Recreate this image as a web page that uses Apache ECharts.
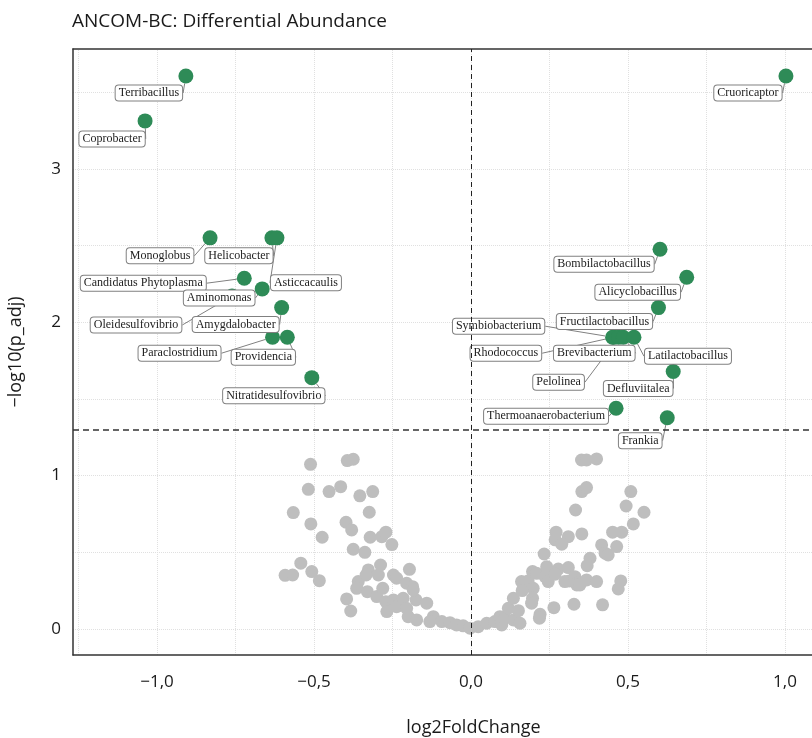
<!DOCTYPE html>
<html>
<head>
<meta charset="utf-8">
<title>ANCOM-BC: Differential Abundance</title>
<script src="https://cdn.jsdelivr.net/npm/echarts@6.0.0/dist/echarts.min.js"></script>
<style>
  html, body { margin: 0; padding: 0; background: #fff; }
  #chart { width: 812px; height: 738px; }
</style>
</head>
<body>
<div id="chart"></div>
<script>
// Significant taxa (labelled, green)
const sigNames = [
  'Terribacillus', 'Coprobacter', 'Cruoricaptor', 'Monoglobus', 'Helicobacter',
  'Asticcacaulis', 'Candidatus Phytoplasma', 'Aminomonas', 'Oleidesulfovibrio',
  'Amygdalobacter', 'Paraclostridium', 'Providencia', 'Nitratidesulfovibrio',
  'Bombilactobacillus', 'Alicyclobacillus', 'Fructilactobacillus', 'Symbiobacterium',
  'Rhodococcus', 'Pelolinea', 'Brevibacterium', 'Latilactobacillus', 'Defluviitalea',
  'Thermoanaerobacterium', 'Frankia'
];
const sigFC = [
  -0.908, -1.038, 1.003, -0.831, -0.634,
  -0.618, -0.722, -0.665, -0.761,
  -0.603, -0.632, -0.585, -0.507,
  0.602, 0.687, 0.597, 0.451,
  0.455, 0.470, 0.485, 0.519, 0.644,
  0.462, 0.625
];
const sigP = [
  3.607, 3.314, 3.607, 2.551, 2.551,
  2.551, 2.288, 2.218, 2.172,
  2.096, 1.903, 1.903, 1.639,
  2.477, 2.294, 2.096, 1.903,
  1.903, 1.903, 1.903, 1.903, 1.679,
  1.440, 1.378
];
// repelled label offsets (px) from each point
const labelOffsets = [
  [-37, 17], [-33, 18], [-38, 17], [-50, 18], [-33, 18],
  [29, 45], [-101, 5], [-43, 9], [-96, 29],
  [-46, 17], [-93, 16], [-24, 20], [-38, 18],
  [-56, 15], [-49, 15], [-54, 14], [-114, -11],
  [-108, 16], [-60, 45], [-29, 16], [54, 19], [-35, 17],
  [-70, 8], [-27, 23]
];

// Non-significant taxa (grey)
const nsFC = [
  -0.511, -0.394, -0.375, -0.518, -0.452, -0.415, -0.354, -0.313, -0.566, -0.510,
  -0.398, -0.380, -0.324, -0.474, -0.321, -0.284, -0.271, -0.252, -0.375, -0.338,
  -0.542, -0.592, -0.568, -0.507, -0.483, -0.396, -0.383, -0.359, -0.364, -0.330,
  -0.327, -0.334, -0.295, -0.288, -0.300, -0.281, -0.271, -0.268, -0.247, -0.237,
  -0.196, -0.205, -0.186, -0.247, -0.237, -0.216, -0.205, -0.175, -0.141, -0.200,
  -0.173, -0.120, -0.093, -0.067, -0.046, -0.131, -0.184, -0.025, -0.003, 0.023,
  0.050, 0.076, 0.092, 0.098, 0.108, 0.119, 0.135, 0.151, 0.156, 0.135,
  0.161, 0.182, 0.198, 0.163, 0.196, 0.193, 0.220, 0.218, 0.264, 0.328,
  0.419, 0.196, 0.209, 0.241, 0.278, 0.310, 0.236, 0.246, 0.268, 0.299,
  0.313, 0.331, 0.342, 0.337, 0.347, 0.368, 0.400, 0.477, 0.469, 0.233,
  0.379, 0.370, 0.416, 0.427, 0.437, 0.464, 0.451, 0.480, 0.271, 0.310,
  0.353, 0.268, 0.289, 0.333, 0.517, 0.551, 0.494, 0.509, 0.353, 0.368,
  0.352, 0.368, 0.400
];
const nsP = [
  1.074, 1.098, 1.107, 0.911, 0.896, 0.928, 0.868, 0.896, 0.759, 0.685,
  0.696, 0.646, 0.761, 0.598, 0.598, 0.602, 0.631, 0.550, 0.520, 0.500,
  0.429, 0.350, 0.352, 0.374, 0.315, 0.196, 0.117, 0.309, 0.265, 0.243,
  0.385, 0.352, 0.352, 0.417, 0.211, 0.265, 0.178, 0.113, 0.352, 0.331,
  0.389, 0.298, 0.276, 0.189, 0.145, 0.200, 0.135, 0.189, 0.168, 0.080,
  0.059, 0.080, 0.048, 0.041, 0.026, 0.048, 0.254, 0.020, 0.005, 0.015,
  0.037, 0.048, 0.080, 0.026, 0.070, 0.135, 0.059, 0.119, 0.037, 0.200,
  0.309, 0.313, 0.265, 0.250, 0.200, 0.168, 0.096, 0.070, 0.139, 0.161,
  0.157, 0.374, 0.363, 0.406, 0.391, 0.400, 0.341, 0.309, 0.357, 0.309,
  0.313, 0.341, 0.305, 0.287, 0.287, 0.320, 0.309, 0.313, 0.261, 0.489,
  0.461, 0.413, 0.548, 0.494, 0.483, 0.537, 0.631, 0.631, 0.631, 0.602,
  0.620, 0.581, 0.553, 0.776, 0.685, 0.761, 0.802, 0.896, 0.896, 0.922,
  1.102, 1.102, 1.109
];

// axes
const xTickValues = [-1, -0.5, 0, 0.5, 1];
const yTickValues = [0, 1, 2, 3];
const xGridValues = [-1.25, -1, -0.75, -0.5, -0.25, 0, 0.25, 0.5, 0.75, 1];
const yGridValues = [0, 0.5, 1, 1.5, 2, 2.5, 3, 3.5];
const pThreshold = 1.301; // -log10(0.05)
const fcCenter = 0;

const SANS = '"Open Sans", "Noto Sans", sans-serif';
const SERIF = '"Liberation Serif", "DejaVu Serif", serif';
const X_MIN = -1.2675;
const X_MAX = 1.086;

const fmtTick = (v, digits) => {
  const s = Math.abs(v).toFixed(digits).replace('.', ',');
  return v < 0 ? '\u2212' + s : s;
};

const chart = echarts.init(document.getElementById('chart'));

const nsData = nsFC.map((fc, i) => [fc, nsP[i]]);
const sigData = sigFC.map((fc, i) => [fc, sigP[i]]);

chart.setOption({
  animation: false,
  title: {
    text: 'ANCOM-BC: Differential Abundance',
    left: 72,
    top: 12,
    padding: 0,
    textStyle: { fontFamily: SANS, fontSize: 19, fontWeight: 'normal', color: '#1a1a1a' },
  },
  grid: {
    left: 73,
    right: 0,
    top: 49,
    bottom: 83,
    outerBoundsMode: 'none',
  },
  xAxis: [
    {
      type: 'value',
      min: X_MIN,
      max: X_MAX,
      name: 'log2FoldChange',
      nameLocation: 'middle',
      nameGap: 64,
      // the original panel is wider than the picture; keep the title centred on it
      nameTextStyle: { fontFamily: SANS, fontSize: 18, color: '#1a1a1a', padding: [0, 0, 0, 62] },
      axisLine: { show: true, onZero: false, lineStyle: { color: '#333', width: 1.5 } },
      axisTick: { show: false },
      splitLine: { show: false },
      axisLabel: {
        customValues: xTickValues,
        formatter: (v) => fmtTick(v, 1),
        margin: 19,
        fontFamily: SANS,
        fontSize: 17,
        color: '#1a1a1a',
      },
    },
    {
      // top frame line
      type: 'value',
      position: 'top',
      min: X_MIN,
      max: X_MAX,
      axisLine: { show: true, onZero: false, lineStyle: { color: '#333', width: 1.5 } },
      axisTick: { show: false },
      axisLabel: { show: false },
      splitLine: { show: false },
    },
  ],
  yAxis: {
    type: 'value',
    min: -0.17,
    max: 3.783,
    name: '\u2212log10(p_adj)',
    nameLocation: 'middle',
    nameGap: 48,
    nameRotate: 90,
    nameTextStyle: { fontFamily: SANS, fontSize: 18, color: '#1a1a1a' },
    axisLine: { show: true, onZero: false, lineStyle: { color: '#333', width: 1.5 } },
    axisTick: { show: false },
    splitLine: { show: false },
    axisLabel: {
      customValues: yTickValues,
      formatter: (v) => fmtTick(v, 0),
      margin: 12,
      fontFamily: SANS,
      fontSize: 17,
      color: '#1a1a1a',
    },
  },
  series: [
    {
      // background grid (dotted), kept under every point
      name: 'grid',
      type: 'scatter',
      data: [],
      silent: true,
      z: 0,
      markLine: {
        silent: true,
        z: 0,
        symbol: 'none',
        label: { show: false },
        lineStyle: { color: '#e0e0e0', type: 'dotted', width: 1 },
        data: [
          ...xGridValues.map(v => ({ xAxis: v })),
          ...yGridValues.map(v => ({ yAxis: v })),
        ],
      },
    },
    {
      name: 'Not significant',
      type: 'scatter',
      data: nsData,
      symbolSize: 13,
      silent: true,
      z: 2,
      itemStyle: { color: '#bebebe', opacity: 1 },
      markLine: {
        silent: true,
        symbol: 'none',
        label: { show: false },
        data: [
          { xAxis: fcCenter, lineStyle: { color: '#222', type: [5, 4], width: 1 } },
          { yAxis: pThreshold, lineStyle: { color: '#333', type: [6, 4], width: 1.6 } },
        ],
      },
    },
    {
      name: 'Significant',
      type: 'scatter',
      data: sigData,
      symbolSize: 15,
      silent: true,
      z: 3,
      itemStyle: { color: '#2e8b57', opacity: 1 },
      label: {
        show: true,
        position: 'inside',
        formatter: (p) => sigNames[p.dataIndex],
        fontFamily: SERIF,
        fontSize: 12,
        color: '#222',
        backgroundColor: '#fff',
        borderColor: '#808080',
        borderWidth: 1,
        borderRadius: 3,
        padding: [2, 3, 1, 3],
      },
      labelLine: {
        show: true,
        lineStyle: { color: '#808080', width: 1 },
      },
      labelLayout: (p) => ({
        dx: labelOffsets[p.dataIndex][0],
        dy: labelOffsets[p.dataIndex][1],
      }),
    },
  ],
});
</script>
</body>
</html>
